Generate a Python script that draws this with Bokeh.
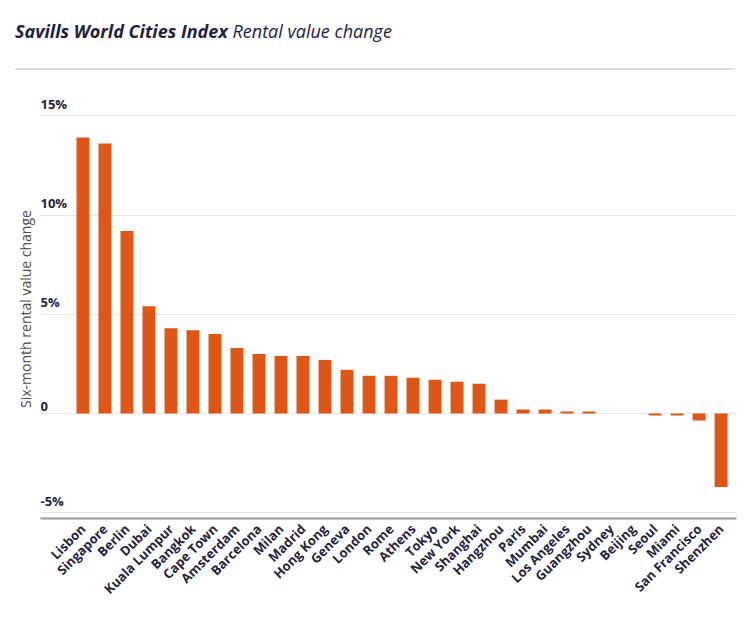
from bokeh.plotting import figure
from bokeh.models import Range1d, FixedTicker, ColumnDataSource, LinearAxis, Div
from bokeh.layouts import column
from bokeh.core.properties import value
from bokeh.embed import file_html
from bokeh.resources import INLINE
import math

cities = ["Lisbon", "Singapore", "Berlin", "Dubai", "Kuala Lumpur", "Bangkok", "Cape Town",
          "Amsterdam", "Barcelona", "Milan", "Madrid", "Hong Kong", "Geneva", "London", "Rome",
          "Athens", "Tokyo", "New York", "Shanghai", "Hangzhou", "Paris", "Mumbai", "Los Angeles",
          "Guangzhou", "Sydney", "Beijing", "Seoul", "Miami", "San Francisco", "Shenzhen"]
changes = [13.9, 13.6, 9.2, 5.4, 4.3, 4.2, 4.0, 3.3, 3.0, 2.9, 2.9, 2.7, 2.2, 1.9, 1.9,
           1.8, 1.7, 1.6, 1.5, 0.7, 0.2, 0.2, 0.1, 0.1, 0.0, 0.0, -0.1, -0.1, -0.35, -3.7]
y_ticks = [-5, 0, 5, 10, 15]
y_tick_labels = ["-5%", "0", "5%", "10%", "15%"]
title_bold = "Savills World Cities Index"
title_rest = "Rental value change"
y_title = "Six-month rental value change"

NAVY = "#1f2240"
FONT = "Open Sans"

positions = list(range(len(cities)))
x_start, x_end = -1.93, len(cities) - 0.3
y_start, y_end = -5.29, 15.82

header = Div(
    text=(f'<div style="position:relative;width:720px;height:70px;margin-left:15px;'
          f'border-bottom:2px solid #d6dee6;box-sizing:border-box;font-family:\'{FONT}\';'
          f'font-size:18px;line-height:24px;color:{NAVY};">'
          f'<div style="position:absolute;left:0;top:19px;white-space:nowrap;">'
          f'<b><i>{title_bold}</i></b> <i>{title_rest}</i></div></div>'),
    width=747, height=72, margin=(0, 0, 0, 0))

p = figure(width=747, height=536, output_backend="svg", toolbar_location=None,
           x_range=Range1d(x_start, x_end), y_range=Range1d(y_start, y_end),
           y_axis_location=None, min_border_left=40, min_border_right=11,
           min_border_top=27, min_border_bottom=90, margin=(0, 0, 0, 0))
p.outline_line_color = None
p.background_fill_color = "white"

src = ColumnDataSource(dict(x=positions, top=changes, city=cities))
p.vbar(x="x", top="top", bottom=0, width=0.59, source=src, color="#de5717", line_color=None)

# x axis
xa = p.xaxis[0]
xa.ticker = FixedTicker(ticks=positions)
xa.major_label_overrides = {i: c for i, c in enumerate(cities)}
xa.major_label_orientation = math.pi / 4
xa.major_label_text_font = FONT
xa.major_label_text_font_style = "bold"
xa.major_label_text_font_size = "13px"
xa.major_label_text_color = NAVY
xa.major_tick_line_color = None
xa.major_tick_out = 0
xa.minor_tick_line_color = None
xa.axis_line_color = "#999999"
xa.axis_line_width = 2
xa.major_label_standoff = 8
p.xgrid.grid_line_color = None

# y axis (title only)
ya = LinearAxis(axis_label=y_title, ticker=FixedTicker(ticks=[]))
ya.major_label_standoff = 0
ya.major_tick_line_color = None
ya.major_tick_out = 0
ya.major_tick_in = 0
ya.minor_tick_line_color = None
ya.axis_line_color = None
ya.axis_label_standoff = 6
ya.axis_label_text_font = FONT
ya.axis_label_text_font_style = "normal"
ya.axis_label_text_font_size = "14px"
ya.axis_label_text_color = "#4d4d4d"
p.add_layout(ya, "left")
p.ygrid.ticker = FixedTicker(ticks=y_ticks)
p.ygrid.grid_line_color = "#e6e6e6"
p.ygrid.grid_line_width = 1

# y tick labels inside the frame, above grid lines
p.text(x=[x_start] * len(y_ticks), y=y_ticks, text=y_tick_labels,
       text_font=value(FONT), text_font_style="bold", text_font_size="13px",
       text_color=NAVY, text_align="left", text_baseline="bottom", y_offset=-3)

layout = column(header, p, margin=(0, 0, 0, 0), spacing=0)
open("out.html", "w").write(file_html(layout, INLINE))
